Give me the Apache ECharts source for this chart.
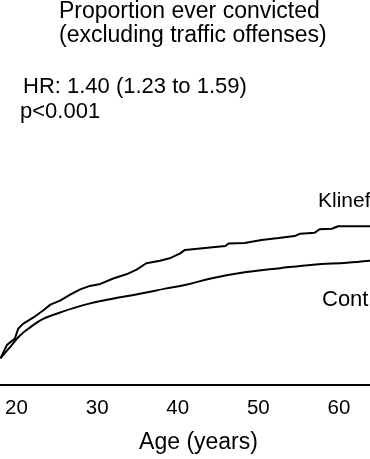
<!DOCTYPE html>
<html>
<head>
<meta charset="utf-8">
<script src="https://cdn.jsdelivr.net/npm/echarts@6/dist/echarts.min.js"></script>
<style>
html,body{margin:0;padding:0;background:#fff;}
#chart{width:370px;height:459px;}
</style>
</head>
<body>
<div id="chart"></div>
<script>
// ---- data ----
const titleLines = ['Proportion ever convicted', '(excluding traffic offenses)'];
const hrText = 'HR: 1.40 (1.23 to 1.59)';
const pText = 'p<0.001';
const xAxisTitle = 'Age (years)';
const xTickLabels = [20, 30, 40, 50, 60];
const seriesNames = ['Klinefelter', 'Control'];

const klineAge  = [18.0, 18.8, 19.4, 19.8, 20.2, 20.8, 22.1, 23.3, 24.2, 25.4, 26.6, 27.9, 29.1, 30.4, 32.0, 33.7, 34.9, 36.1, 37.8, 39.0, 40.3, 40.9, 43.4, 45.9, 46.3, 48.3, 50.4, 52.5, 54.5, 55.2, 57.0, 57.6, 59.1, 59.9, 63.85];
const klineProp = [0.054, 0.081, 0.089, 0.094, 0.114, 0.124, 0.137, 0.151, 0.163, 0.171, 0.183, 0.194, 0.201, 0.205, 0.216, 0.225, 0.234, 0.247, 0.252, 0.257, 0.267, 0.274, 0.278, 0.282, 0.287, 0.288, 0.294, 0.298, 0.302, 0.307, 0.309, 0.316, 0.317, 0.322, 0.322];

const ctrlAge  = [18.0, 19.2, 20.4, 21.7, 23.3, 25.4, 28.3, 31.6, 35.3, 38.6, 40.9, 44.4, 48.5, 52.7, 56.8, 61.0, 63.85];
const ctrlProp = [0.054, 0.077, 0.100, 0.117, 0.134, 0.147, 0.162, 0.174, 0.185, 0.196, 0.203, 0.217, 0.229, 0.237, 0.244, 0.248, 0.252];

// ---- chart ----
const FONT = '"Liberation Sans", Arial, Helvetica, sans-serif';
const chart = echarts.init(document.getElementById('chart'), null, {renderer: 'canvas'});
const zip = (a, b) => a.map((v, i) => [v, b[i]]);

chart.setOption({
  backgroundColor: '#fff',
  animation: false,
  title: {
    text: titleLines.join('\n'),
    left: 59,
    top: 0,
    padding: 0,
    textStyle: {fontFamily: FONT, fontSize: 23, fontWeight: 'normal', color: '#000', lineHeight: 24}
  },
  grid: {left: 0, right: 0, top: 138.5, bottom: 70.5, containLabel: false},
  xAxis: {
    type: 'value',
    min: 17.95,
    max: 63.85,
    name: xAxisTitle,
    nameLocation: 'middle',
    nameGap: 46,
    nameTextStyle: {fontFamily: FONT, fontSize: 23, color: '#000', padding: [0, 0, 0, 27]},
    axisLine: {show: true, onZero: false, lineStyle: {color: '#000', width: 2}},
    axisTick: {show: false},
    splitLine: {show: false},
    axisLabel: {
      customValues: xTickLabels,
      fontFamily: FONT, fontSize: 20.5, color: '#000', margin: 13
    }
  },
  yAxis: {
    type: 'value', min: 0, max: 0.5, show: false,
    splitLine: {show: false}
  },
  graphic: [
    {type: 'text', left: 23, top: 76, style: {text: hrText, font: '22px ' + FONT, fill: '#000'}},
    {type: 'text', left: 20, top: 101, style: {text: pText, font: '22px ' + FONT, fill: '#000'}},
    {type: 'text', x: 318, y: 201, style: {text: seriesNames[0], font: '21px ' + FONT, fill: '#000', verticalAlign: 'middle'}},
    {type: 'text', x: 322, y: 300, style: {text: seriesNames[1], font: '22px ' + FONT, fill: '#000', verticalAlign: 'middle'}}
  ],
  series: [
    {
      name: seriesNames[0], type: 'line', data: zip(klineAge, klineProp),
      showSymbol: false, smooth: false,
      lineStyle: {color: '#000', width: 2}
    },
    {
      name: seriesNames[1], type: 'line', data: zip(ctrlAge, ctrlProp),
      showSymbol: false, smooth: 0.4,
      lineStyle: {color: '#000', width: 2}
    }
  ]
});
</script>
</body>
</html>
